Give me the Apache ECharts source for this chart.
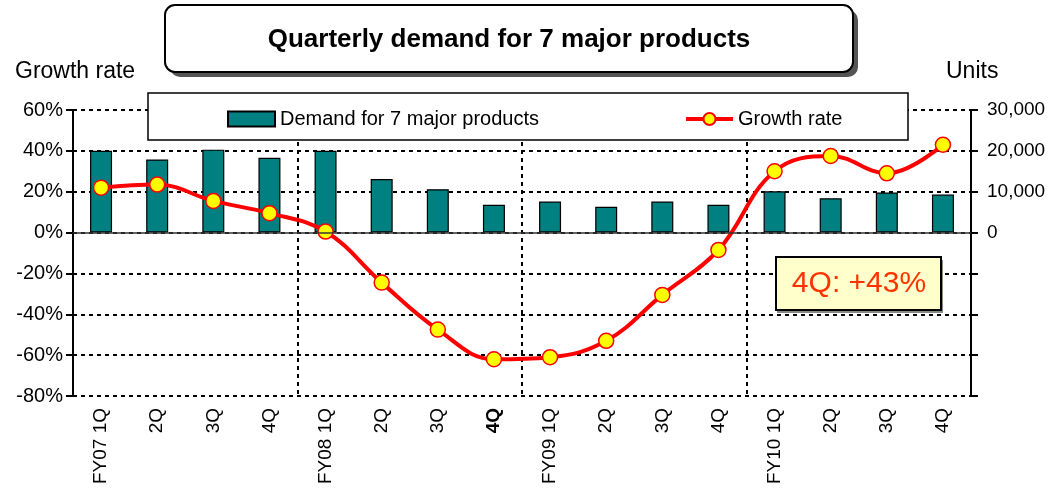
<!DOCTYPE html>
<html>
<head>
<meta charset="utf-8">
<script src="https://cdn.jsdelivr.net/npm/echarts@6/dist/echarts.min.js"></script>
<style>
  html, body { margin: 0; padding: 0; background: #fff; }
  #chart { width: 1052px; height: 489px; }
</style>
</head>
<body>
<div id="chart"></div>
<script>
// quarters on the x axis
const categories = ['FY07 1Q', '2Q', '3Q', '4Q', 'FY08 1Q', '2Q', '3Q', '4Q',
  'FY09 1Q', '2Q', '3Q', '4Q', 'FY10 1Q', '2Q', '3Q', '4Q']
// units (right axis)
const demand = [20000, 17900, 20300, 18300, 20000, 13100, 10600, 6800,
  7600, 6300, 7600, 6800, 10100, 8400, 9800, 9300]
// growth rate in % (left axis)
const growth = [22, 23.5, 15.5, 9.5, 0.5, -24.5, -47.5, -62,
  -61, -53, -30.5, -8.5, 30, 37.5, 29, 43]

const sans = "'Liberation Sans', Arial, sans-serif"
const dashed = { color: '#000', type: [4, 4], width: 2 }

const chart = echarts.init(document.getElementById('chart'))

chart.setOption({
  animation: false,
  grid: { left: 73, right: 81, top: 110, bottom: 93 },
  legend: {
    data: [
      { name: 'Demand for 7 major products', icon: 'rect' },
      { name: 'Growth rate' }
    ],
    left: 222,
    top: 104,
    itemWidth: 47,
    itemHeight: 15,
    itemGap: 145,
    textStyle: { fontFamily: sans, fontSize: 20, color: '#000' },
    lineStyle: { width: 4 },
    z: 5
  },
  graphic: [
    { type: 'rect', z: 1, shape: { x: 170, y: 10, width: 688, height: 67, r: 10 }, style: { fill: '#555' } },
    { type: 'rect', z: 1, shape: { x: 165, y: 5, width: 688, height: 67, r: 10 }, style: { fill: '#fff', stroke: '#000', lineWidth: 2 } },
    {
      type: 'text', z: 2, x: 509, y: 40,
      style: { text: 'Quarterly demand for 7 major products', font: 'bold 26px ' + sans, fill: '#000', align: 'center', verticalAlign: 'middle' }
    },
    { type: 'text', z: 2, x: 15, y: 72, style: { text: 'Growth rate', font: '23px ' + sans, fill: '#000', verticalAlign: 'middle' } },
    { type: 'text', z: 2, x: 946, y: 72, style: { text: 'Units', font: '23px ' + sans, fill: '#000', verticalAlign: 'middle' } },
    { type: 'rect', z: 1, shape: { x: 148, y: 93, width: 760, height: 47 }, style: { fill: '#fff', stroke: '#000', lineWidth: 1.5 } },
    { type: 'rect', z: 5, shape: { x: 777, y: 260, width: 166, height: 53 }, style: { fill: '#888' } },
    { type: 'rect', z: 6, shape: { x: 776, y: 257, width: 165, height: 53 }, style: { fill: '#FFFFCC', stroke: '#000', lineWidth: 2 } },
    {
      type: 'text', z: 7, x: 859, y: 284,
      style: { text: '4Q: +43%', font: '30px ' + sans, fill: '#FF3300', align: 'center', verticalAlign: 'middle' }
    }
  ],
  xAxis: {
    type: 'category',
    data: categories,
    boundaryGap: true,
    axisLine: { show: false, onZero: false },
    axisTick: { show: false },
    splitLine: {
      show: true,
      interval: (i) => i === 4 || i === 8 || i === 12,
      lineStyle: dashed
    },
    axisLabel: {
      interval: 0,
      rotate: 90,
      margin: 12,
      fontFamily: sans,
      fontSize: 19,
      color: '#000',
      formatter: (v, i) => (i === 7 ? '{b|' + v + '}' : v),
      rich: { b: { fontWeight: 'bold', fontFamily: sans, fontSize: 19, color: '#000' } }
    }
  },
  yAxis: [
    {
      type: 'value',
      min: -80,
      max: 60,
      interval: 20,
      axisLine: { show: true, lineStyle: { color: '#000', width: 2 } },
      axisTick: { show: true, length: 7, lineStyle: { color: '#000', width: 2 } },
      splitLine: { show: true, lineStyle: dashed },
      axisLabel: { formatter: '{value}%', fontFamily: sans, fontSize: 20, color: '#000', margin: 10 }
    },
    {
      type: 'value',
      min: -40000,
      max: 30000,
      interval: 10000,
      axisLine: { show: true, lineStyle: { color: '#000', width: 2 } },
      axisTick: { show: true, length: 7, lineStyle: { color: '#000', width: 2 } },
      splitLine: { show: false },
      axisLabel: {
        formatter: (v) => (v >= 0 ? v.toLocaleString('en-US') : ''),
        fontFamily: sans, fontSize: 19, color: '#000', margin: 16
      }
    }
  ],
  series: [
    {
      name: 'Demand for 7 major products',
      type: 'bar',
      yAxisIndex: 1,
      data: demand,
      barWidth: 22,
      itemStyle: { color: '#008080', borderColor: '#000', borderWidth: 1.2 },
      markLine: {
        silent: true,
        symbol: 'none',
        label: { show: false },
        lineStyle: { color: '#333', type: 'solid', width: 1.5 },
        data: [{ yAxis: 0 }]
      }
    },
    {
      name: 'Growth rate',
      type: 'line',
      yAxisIndex: 0,
      data: growth,
      smooth: 0.4,
      symbol: 'circle',
      symbolSize: 15,
      z: 4,
      lineStyle: { color: '#FF0000', width: 4 },
      itemStyle: { color: '#FFFF00', borderColor: '#FF0000', borderWidth: 1.5 }
    }
  ]
})
</script>
</body>
</html>
